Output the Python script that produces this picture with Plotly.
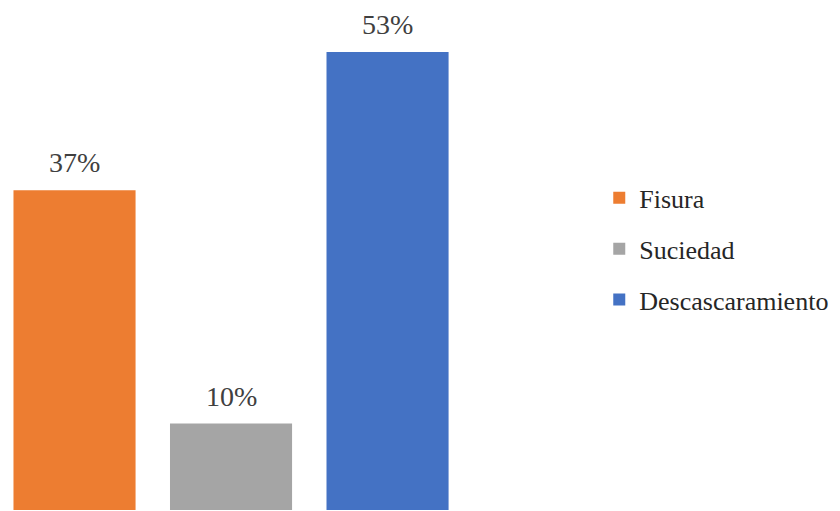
import plotly.graph_objects as go

categories = ["Fisura", "Suciedad", "Descascaramiento"]
values = [37, 10, 53]
labels = ["37%", "10%", "53%"]
colors = ["#ED7D31", "#A5A5A5", "#4472C4"]

FONT = "Times New Roman, Liberation Serif, DejaVu Serif, serif"

fig = go.Figure()
for c, v, col in zip(categories, values, colors):
    fig.add_trace(go.Bar(x=[c], y=[v], name=c, marker=dict(color=col, line=dict(width=0)),
                         legendgroup=c, showlegend=True))

for c, v, t in zip(categories, values, labels):
    fig.add_annotation(x=c, y=v, text=t, showarrow=False, yanchor="bottom", yshift=11,
                       borderpad=0,
                       font=dict(family=FONT, size=28, color="#404040"))

fig.update_layout(
    width=840, height=511,
    margin=dict(l=0, r=370, t=0, b=9),
    plot_bgcolor="white", paper_bgcolor="white",
    barmode="overlay", bargap=0.22,
    showlegend=True,
    legend=dict(x=1.258, y=0.52, xanchor="left", yanchor="middle",
                font=dict(family=FONT, size=26, color="#262626"),
                tracegroupgap=14, itemwidth=30),
    xaxis=dict(visible=False, range=[-0.425, 2.578]),
    yaxis=dict(visible=False, range=[0, 58.1]),
)
fig.write_html("out.html")
